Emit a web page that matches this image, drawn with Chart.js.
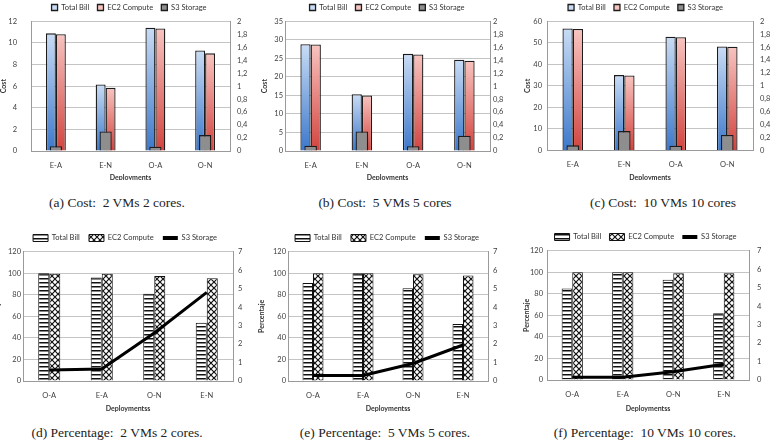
<!DOCTYPE html>
<html>
<head>
<meta charset="utf-8">
<title>Cost and percentage per deployment</title>
<script src="https://cdn.jsdelivr.net/npm/chart.js@4.4.0/dist/chart.umd.min.js"></script>
<style>
  html, body { margin: 0; padding: 0; background: #fff; }
  #page { position: relative; width: 775px; height: 445px; overflow: hidden; }
  .cell { position: absolute; overflow: hidden; }
  .cell canvas { position: absolute; top: 0; }
  .cap {
    position: absolute;
    transform: translateX(-50%);
    white-space: nowrap;
    font-family: "Liberation Serif", "DejaVu Serif", serif;
    font-size: 13.5px;
    line-height: 1;
    color: #222;
  }
</style>
</head>
<body>
<div id="page">
  <div class="cell" style="left:0;top:0;width:258px;height:180px"><canvas id="costChart2"></canvas></div>
  <div class="cell" style="left:258px;top:0;width:258px;height:180px"><canvas id="costChart5"></canvas></div>
  <div class="cell" style="left:516px;top:0;width:259px;height:180px"><canvas id="costChart10"></canvas></div>
  <div class="cell" style="left:0;top:222px;width:258px;height:198px"><canvas id="pctChart2"></canvas></div>
  <div class="cell" style="left:258px;top:222px;width:258px;height:198px"><canvas id="pctChart5"></canvas></div>
  <div class="cell" style="left:516px;top:222px;width:259px;height:198px"><canvas id="pctChart10"></canvas></div>

  <div class="cap" style="left:117px;top:196px">(a) Cost:&nbsp; 2 VMs 2 cores.</div>
  <div class="cap" style="left:385px;top:196px">(b) Cost:&nbsp; 5 VMs 5 cores</div>
  <div class="cap" style="left:663px;top:196px">(c) Cost:&nbsp; 10 VMs 10 cores</div>
  <div class="cap" style="left:117px;top:426px">(d) Percentage:&nbsp; 2 VMs 2 cores.</div>
  <div class="cap" style="left:385px;top:426px">(e) Percentage:&nbsp; 5 VMs 5 cores.</div>
  <div class="cap" style="left:645px;top:426px">(f) Percentage:&nbsp; 10 VMs 10 cores.</div>
</div>

<script>
// Cost charts (top row)
const costLabels = ["E-A", "E-N", "O-A", "O-N"];

const totalBill2 = [10.88, 6.15, 11.41, 9.3];
const ec2Compute2 = [10.8, 5.84, 11.34, 9.03];
const s3Storage2 = [0.075, 0.3, 0.065, 0.245];

const totalBill5 = [28.8, 15.3, 26.2, 24.6];
const ec2Compute5 = [28.75, 15.0, 26.05, 24.35];
const s3Storage5 = [0.08, 0.3, 0.075, 0.235];

const totalBill10 = [56.6, 35.0, 52.8, 48.3];
const ec2Compute10 = [56.4, 34.8, 52.6, 48.2];
const s3Storage10 = [0.08, 0.3, 0.075, 0.24];

// Percentage charts (bottom row)
const pctLabels = ["O-A", "E-A", "O-N", "E-N"];

const pctTotal2 = [100, 96, 81, 54];
const pctEc2_2 = [99.5, 99.5, 97.5, 95.5];
const pctS3_2 = [0.6, 0.65, 2.6, 4.8];

const pctTotal5 = [91, 100, 86, 53];
const pctEc2_5 = [100, 100, 99, 98];
const pctS3_5 = [0.3, 0.3, 0.95, 1.95];

const pctTotal10 = [85, 100, 93, 62];
const pctEc2_10 = [100, 100, 99, 99];
const pctS3_10 = [0.15, 0.15, 0.45, 0.85];

// Chart.js global defaults
Chart.defaults.font.family = "Lato, 'Liberation Sans', sans-serif";
Chart.defaults.font.size = 7.5;
Chart.defaults.color = "#404040";

const gridColor = "#c4c4c4";
const axisColor = "#9a9a9a";
const titleFont = { size: 7, weight: "bold" };
const byIndex = (a, b) => a.datasetIndex - b.datasetIndex;
const commaTick = (v) => String(Math.round(v * 10) / 10).replace(".", ",");

// vertical gradient per bar, light at the top
function shade(top, bottom, solid) {
  return (ctx) => {
    if (ctx.type !== "data") return solid;
    const scale = ctx.chart.scales.y;
    if (!scale) return solid;
    const y0 = scale.getPixelForValue(ctx.raw);
    const y1 = scale.getPixelForValue(0);
    if (!isFinite(y0) || !isFinite(y1) || y1 - y0 < 1) return solid;
    const g = ctx.chart.ctx.createLinearGradient(0, y0, 0, y1);
    g.addColorStop(0, top);
    g.addColorStop(1, bottom);
    return g;
  };
}

function stripePattern() {
  const c = document.createElement("canvas");
  c.width = 4;
  c.height = 4;
  const g = c.getContext("2d");
  g.fillStyle = "#fff";
  g.fillRect(0, 0, 4, 4);
  g.fillStyle = "#111";
  g.fillRect(0, 0, 4, 1);
  g.fillStyle = "#888";
  g.fillRect(0, 1, 4, 1);
  return g.createPattern(c, "repeat");
}

function hatchPattern() {
  const c = document.createElement("canvas");
  c.width = 6;
  c.height = 6;
  const g = c.getContext("2d");
  g.fillStyle = "#fff";
  g.fillRect(0, 0, 6, 6);
  g.strokeStyle = "#111";
  g.lineWidth = 1.2;
  g.beginPath();
  g.moveTo(-1, -1);
  g.lineTo(7, 7);
  g.moveTo(7, -1);
  g.lineTo(-1, 7);
  g.stroke();
  return g.createPattern(c, "repeat");
}

function setupCanvas(id, lay) {
  const canvas = document.getElementById(id);
  canvas.width = lay.w;
  canvas.height = lay.h;
  canvas.style.width = lay.w + "px";
  canvas.style.height = lay.h + "px";
  canvas.style.left = lay.dx + "px";
  return canvas;
}

// Shared axis block for both rows
function axes(lay, opts) {
  return {
    x: {
      grid: { display: false },
      border: { color: axisColor },
      ticks: { padding: 2, color: "#404040" },
      title: { display: true, text: opts.xTitle, font: titleFont, color: "#333", padding: { top: 0, bottom: lay.xTitleBottom } },
      afterFit: (s) => { s.height = lay.xHeight; },
    },
    y: {
      position: "left",
      min: 0,
      max: opts.yMax,
      ticks: { stepSize: opts.yStep, padding: lay.yPad, color: "#404040" },
      grid: { color: gridColor, drawTicks: false },
      border: { color: axisColor },
      title: { display: true, text: opts.yTitle, font: titleFont, color: "#333", padding: { top: lay.yTitlePad, bottom: 0 } },
      afterFit: (s) => { s.width = lay.yWidth; },
    },
    y1: {
      position: "right",
      min: 0,
      max: opts.y1Max,
      ticks: { stepSize: opts.y1Step, padding: lay.y1Pad, color: "#404040", callback: opts.y1Format },
      grid: { drawOnChartArea: false, drawTicks: false },
      border: { color: axisColor },
      afterFit: (s) => { s.width = lay.y1Width; },
    },
  };
}

function costChart(id, lay, total, ec2, s3, yMax, yStep) {
  return new Chart(setupCanvas(id, lay), {
    type: "bar",
    data: {
      labels: costLabels,
      datasets: [
        {
          label: "Total Bill",
          data: total,
          yAxisID: "y",
          order: 1,
          backgroundColor: shade("#c9dcf5", "#3c78cb", "#7ea9e2"),
          borderColor: "#1c1c1c",
          borderWidth: 1.3,
          categoryPercentage: 0.4,
          barPercentage: 1,
        },
        {
          label: "EC2 Compute",
          data: ec2,
          yAxisID: "y",
          order: 1,
          backgroundColor: shade("#f8c4c0", "#d2443f", "#e98580"),
          borderColor: "#1c1c1c",
          borderWidth: 1.3,
          categoryPercentage: 0.4,
          barPercentage: 1,
        },
        {
          label: "S3 Storage",
          data: s3,
          yAxisID: "y1",
          order: 0,
          grouped: false,
          backgroundColor: "#8e8e8e",
          borderColor: "#1c1c1c",
          borderWidth: 1.3,
          categoryPercentage: 0.245,
          barPercentage: 1,
        },
      ],
    },
    options: {
      responsive: false,
      animation: false,
      layout: { padding: { top: lay.padTop, left: 0, right: 0, bottom: 0 } },
      plugins: {
        legend: {
          labels: { boxWidth: 6, boxHeight: 6, padding: lay.legendPad, color: "#333", sort: byIndex },
        },
        tooltip: { enabled: false },
      },
      scales: axes(lay, {
        xTitle: "Deployments",
        yTitle: "Cost",
        yMax: yMax,
        yStep: yStep,
        y1Max: 2,
        y1Step: 0.2,
        y1Format: commaTick,
      }),
    },
  });
}

function pctChart(id, lay, total, ec2, s3) {
  return new Chart(setupCanvas(id, lay), {
    type: "bar",
    data: {
      labels: pctLabels,
      datasets: [
        {
          label: "Total Bill",
          data: total,
          yAxisID: "y",
          order: 1,
          backgroundColor: stripePattern(),
          borderColor: "#111",
          borderWidth: 1,
          categoryPercentage: 0.42,
          barPercentage: 1,
        },
        {
          label: "EC2 Compute",
          data: ec2,
          yAxisID: "y",
          order: 1,
          backgroundColor: hatchPattern(),
          borderColor: "#111",
          borderWidth: 1,
          categoryPercentage: 0.42,
          barPercentage: 1,
        },
        {
          type: "line",
          label: "S3 Storage",
          data: s3,
          yAxisID: "y1",
          order: 0,
          borderColor: "#000",
          backgroundColor: "#000",
          borderWidth: 3,
          pointRadius: 0,
          tension: 0,
          fill: false,
        },
      ],
    },
    options: {
      responsive: false,
      animation: false,
      layout: { padding: { top: lay.padTop, left: 0, right: 0, bottom: 0 } },
      plugins: {
        legend: {
          labels: {
            usePointStyle: true,
            pointStyleWidth: 15,
            boxHeight: 7,
            padding: lay.legendPad,
            color: "#333",
            sort: byIndex,
            generateLabels(chart) {
              const items = Chart.defaults.plugins.legend.labels.generateLabels(chart);
              items.forEach((item) => {
                const isLine = chart.data.datasets[item.datasetIndex].type === "line";
                item.pointStyle = isLine ? "line" : "rect";
                if (isLine) {
                  item.lineWidth = 4;
                  item.strokeStyle = "#000";
                }
              });
              return items;
            },
          },
        },
        tooltip: { enabled: false },
      },
      scales: axes(lay, {
        xTitle: "Deploymentss",
        yTitle: "Percentaje",
        yMax: 120,
        yStep: 20,
        y1Max: 7,
        y1Step: 1,
        y1Format: (v) => v,
      }),
    },
  });
}

// Cost charts
costChart("costChart2",
  { w: 258, h: 190, dx: 0, yWidth: 31, y1Width: 28, yPad: 14, y1Pad: 7, yTitlePad: 0, padTop: -4.5, legendPad: 8.25, xHeight: 39, xTitleBottom: 7.8 },
  totalBill2, ec2Compute2, s3Storage2, 12, 2);
costChart("costChart5",
  { w: 258, h: 190, dx: 0, yWidth: 27, y1Width: 26, yPad: 2, y1Pad: 3, yTitlePad: 3, padTop: -4.5, legendPad: 8.25, xHeight: 39, xTitleBottom: 7.8 },
  totalBill5, ec2Compute5, s3Storage5, 35, 5);
costChart("costChart10",
  { w: 259, h: 190, dx: 0, yWidth: 31, y1Width: 22, yPad: 5, y1Pad: 7, yTitlePad: 8, padTop: -4.5, legendPad: 8.25, xHeight: 39.5, xTitleBottom: 7.8 },
  totalBill10, ec2Compute10, s3Storage10, 60, 10);

// Percentage charts
pctChart("pctChart2",
  { w: 266, h: 196, dx: -8, yWidth: 31, y1Width: 25, yPad: 2, y1Pad: 5, yTitlePad: 2, padTop: 3, legendPad: 9.25, xHeight: 37, xTitleBottom: 4.8 },
  pctTotal2, pctEc2_2, pctS3_2);
pctChart("pctChart5",
  { w: 258, h: 196, dx: 0, yWidth: 30, y1Width: 28, yPad: 2, y1Pad: 5, yTitlePad: 0, padTop: 3, legendPad: 9.25, xHeight: 37, xTitleBottom: 4.8 },
  pctTotal5, pctEc2_5, pctS3_5);
pctChart("pctChart10",
  { w: 259, h: 196, dx: 0, yWidth: 31, y1Width: 26, yPad: 4, y1Pad: 8, yTitlePad: 7, padTop: 3, legendPad: 8.25, xHeight: 38, xTitleBottom: 4.8 },
  pctTotal10, pctEc2_10, pctS3_10);
</script>
</body>
</html>
